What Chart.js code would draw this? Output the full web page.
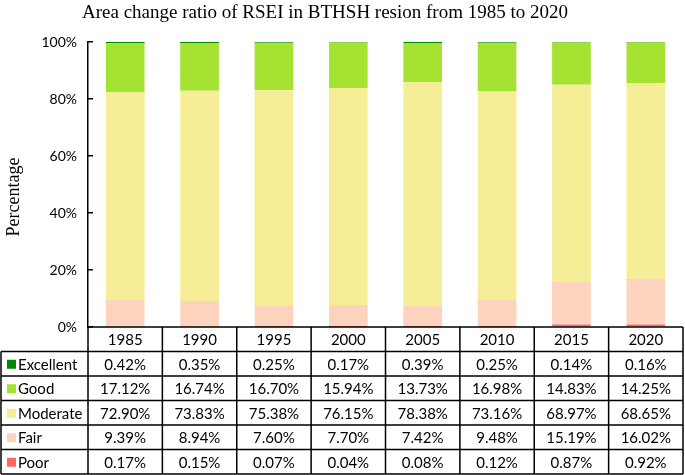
<!DOCTYPE html>
<html>
<head>
<meta charset="utf-8">
<title>Area change ratio of RSEI</title>
<script src="https://cdn.jsdelivr.net/npm/chart.js@4.4.1/dist/chart.umd.min.js"></script>
<style>
  html, body { margin: 0; padding: 0; background: #fff; }
  #wrap { width: 685px; height: 475px; }
</style>
</head>
<body>
<div id="wrap"><canvas id="rseiChart" width="685" height="475"></canvas></div>
<script>
// years along the x axis
var years = ['1985', '1990', '1995', '2000', '2005', '2010', '2015', '2020'];

// area share of each RSEI grade (%)
var excellent = [0.42, 0.35, 0.25, 0.17, 0.39, 0.25, 0.14, 0.16];
var good      = [17.12, 16.74, 16.70, 15.94, 13.73, 16.98, 14.83, 14.25];
var moderate  = [72.90, 73.83, 75.38, 76.15, 78.38, 73.16, 68.97, 68.65];
var fair      = [9.39, 8.94, 7.60, 7.70, 7.42, 9.48, 15.19, 16.02];
var poor      = [0.17, 0.15, 0.07, 0.04, 0.08, 0.12, 0.87, 0.92];

// y axis ticks
var yTicks = [0, 20, 40, 60, 80, 100];

var sansFont = 'Lato, "Open Sans", sans-serif';
var serifFont = '"Liberation Serif", "Times New Roman", serif';

// 下から積む順
var series = [
	{ label: 'Poor',      data: poor,      color: '#ff6666' },
	{ label: 'Fair',      data: fair,      color: '#fdd3bd' },
	{ label: 'Moderate',  data: moderate,  color: '#f5ee96' },
	{ label: 'Good',      data: good,      color: '#a5e232' },
	{ label: 'Excellent', data: excellent, color: '#008a00' }
];

// タイトル・軸タイトル・データ表
var extrasPlugin = {
	id: 'extras',
	afterDraw: function(chart) {
		var ctx = chart.ctx;
		var area = chart.chartArea;
		var x = chart.scales.x;

		ctx.save();
		ctx.fillStyle = '#000';

		// title
		ctx.font = '19px ' + serifFont;
		ctx.textAlign = 'center';
		ctx.textBaseline = 'middle';
		ctx.fillText('Area change ratio of RSEI in BTHSH resion from 1985 to 2020', 325, 13);

		// y axis title
		ctx.save();
		ctx.font = '18px ' + serifFont;
		ctx.translate(14, 197);
		ctx.rotate(-Math.PI / 2);
		ctx.fillText('Percentage', 0, 0);
		ctx.restore();

		// data table
		var top = area.bottom;
		var rowH = 24.5;
		var colW = (area.right - area.left) / years.length;
		var tableLeft = 1;
		var rows = series.slice().reverse();
		var bottom = top + rowH * (rows.length + 1);

		ctx.strokeStyle = '#000';
		ctx.lineWidth = 1.5;
		ctx.beginPath();
		// header row
		ctx.moveTo(area.left, top);
		ctx.lineTo(area.right, top);
		for (var i = 0; i <= years.length; i++) {
			var bx = (i < years.length) ? x.getPixelForValue(i) - colW / 2 : x.getPixelForValue(i - 1) + colW / 2;
			ctx.moveTo(bx, top);
			ctx.lineTo(bx, bottom);
		}
		for (var r = 1; r <= rows.length + 1; r++) {
			var ly = top + rowH * r;
			ctx.moveTo(tableLeft, ly);
			ctx.lineTo(area.right, ly);
		}
		ctx.moveTo(tableLeft, top + rowH);
		ctx.lineTo(tableLeft, bottom);
		ctx.stroke();

		ctx.font = '15px ' + sansFont;
		ctx.textBaseline = 'middle';
		ctx.textAlign = 'center';
		years.forEach(function(y, i) {
			ctx.fillText(y, x.getPixelForValue(i), top + rowH / 2 + 1);
		});

		rows.forEach(function(s, r) {
			var cy = top + rowH * (r + 1.5) + 1;
			ctx.fillStyle = s.color;
			ctx.fillRect(7, cy - 5, 9, 9);
			ctx.fillStyle = '#000';
			ctx.textAlign = 'left';
			ctx.fillText(s.label, 18, cy);
			ctx.textAlign = 'center';
			s.data.forEach(function(v, i) {
				ctx.fillText(v.toFixed(2) + '%', x.getPixelForValue(i), cy);
			});
		});
		ctx.restore();
	}
};

var ctx = document.getElementById('rseiChart').getContext('2d');
new Chart(ctx, {
	type: 'bar',
	data: {
		labels: years,
		datasets: series.map(function(s) {
			return {
				label: s.label,
				data: s.data,
				backgroundColor: s.color,
				borderWidth: 0,
				barPercentage: 0.52,
				categoryPercentage: 1.0
			};
		})
	},
	options: {
		responsive: false,
		animation: false,
		layout: { padding: { top: 42, right: 2, bottom: 148, left: 0 } },
		plugins: {
			legend: { display: false },
			title: { display: false },
			tooltip: { enabled: false }
		},
		scales: {
			x: {
				stacked: true,
				display: false
			},
			y: {
				stacked: true,
				min: 0,
				max: 100,
				afterBuildTicks: function(scale) {
					scale.ticks = yTicks.map(function(v) { return { value: v }; });
				},
				afterFit: function(scale) {
					scale.width = 88;
				},
				border: { display: true, color: '#000', width: 1.5 },
				grid: {
					drawOnChartArea: false,
					color: '#000',
					lineWidth: 1.5,
					tickLength: -5
				},
				ticks: {
					padding: 16,
					color: '#000',
					font: { family: sansFont, size: 14 },
					callback: function(v) { return v + '%'; }
				}
			}
		}
	},
	plugins: [extrasPlugin]
});
</script>
</body>
</html>
